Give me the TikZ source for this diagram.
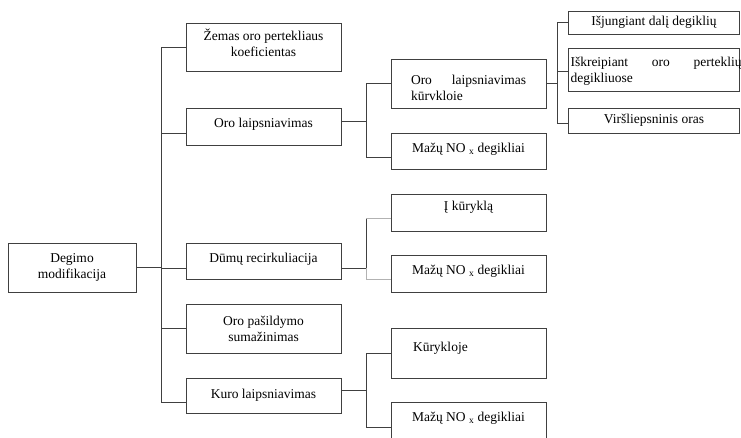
\documentclass[tikz,border=0pt]{standalone}
\usepackage{fontspec}
\setmainfont{Liberation Serif}

\tikzset{
  box/.style={draw=black!75, line width=0.8pt, minimum width=155pt, inner sep=2pt,
    align=center, font=\fontsize{13.5}{16}\selectfont},
  raised/.style={text depth=7pt},
  leaf/.style={box, minimum width=171pt},
  link/.style={draw=black!75, line width=0.8pt},
  faint/.style={draw=black!30, line width=0.8pt}
}

\begin{document}
\begin{tikzpicture}[x=1pt, y=-1pt]
\useasboundingbox (0,0) rectangle (741,437);
\clip (0,0) rectangle (741,437);

% pagrindinis
\node[box, minimum width=128pt, minimum height=49pt] (degimo) at (72,267.5) {Degimo\\modifikacija};

% pirmas lygis
\node[box, text depth=9pt, minimum height=48pt] (zemas) at (263.5,47) {Žemas oro pertekliaus\\koeficientas};
\node[box, raised, minimum height=37pt] (oro) at (263.5,126.5) {Oro laipsniavimas};
\node[box, raised, minimum height=36pt] (dumu) at (263.5,261) {Dūmų recirkuliacija};
\node[box, minimum height=49pt] (pasild) at (263.5,328.5) {Oro pašildymo\\sumažinimas};
\node[box, minimum height=35pt] (kuro) at (263.5,395.5) {Kuro laipsniavimas};

% antras lygis
\node[box, text height=18pt, minimum height=49pt, text width=115pt, align=justify] (kurv) at (468.5,83.5) {Oro laipsniavimas kūrvkloie};
\node[box, raised, minimum height=36pt] (nox1) at (468.5,151) {Mažų NO \textsubscript{x} degikliai};
\node[box, text depth=13pt, minimum height=37pt] (ikur) at (468.5,212.5) {Į kūryklą};
\node[box, raised, minimum height=37pt] (nox2) at (468.5,273.5) {Mažų NO \textsubscript{x} degikliai};
\node[box, text depth=13pt, minimum height=50pt, text width=111pt, align=left] (kuryk) at (468.5,353) {Kūrykloje};
\node[box, raised, minimum height=37pt] (nox3) at (468.5,420.5) {Mažų NO \textsubscript{x} degikliai};

% trecias lygis
\node[leaf, minimum height=23pt] (isj) at (654,22.5) {Išjungiant dalį degiklių};
\node[leaf, text depth=15pt, inner ysep=1pt, minimum height=43pt, text width=167pt, align=left] (iskr) at (654,69.5)
  {\hbox to 171pt{Iškreipiant\hfill oro\hfill perteklių}\\degikliuose};
\node[leaf, minimum height=25pt] (virs) at (654,120.5) {Viršliepsninis oras};

% jungtys
\foreach \c/\s in {zemas/0, oro/-6.5, dumu/-7, pasild/0, kuro/-6.5}
  \draw[link] (degimo.east) -- ++(25,0) |- ([yshift=\s pt]\c.west);

\draw[link] ([yshift=5.5pt]oro.east) -- ++(25,0) |- (kurv.west);
\draw[link] ([yshift=5.5pt]oro.east) -- ++(25,0) |- ([yshift=-6pt]nox1.west);

\foreach \c/\s in {isj/0, iskr/-1.5, virs/-3}
  \draw[link] (kurv.east) -- ++(11,0) |- ([yshift=\s pt]\c.west);

\coordinate (ikurin) at ([yshift=-5.5pt]ikur.west);
\coordinate (nox2in) at ([yshift=-5.5pt]nox2.west);
\draw[link] ([yshift=-7pt]dumu.east) -- ++(25,0) coordinate (dumuj) -- (dumuj |- ikurin);
\draw[faint] (dumuj |- ikurin) -- (ikurin);
\draw[faint] (dumuj) |- (nox2in);

\draw[link] ([yshift=5.5pt]kuro.east) -- ++(25,0) |- (kuryk.west);
\draw[link] ([yshift=5.5pt]kuro.east) -- ++(25,0) |- ([yshift=-6.5pt]nox3.west);
\end{tikzpicture}
\end{document}
